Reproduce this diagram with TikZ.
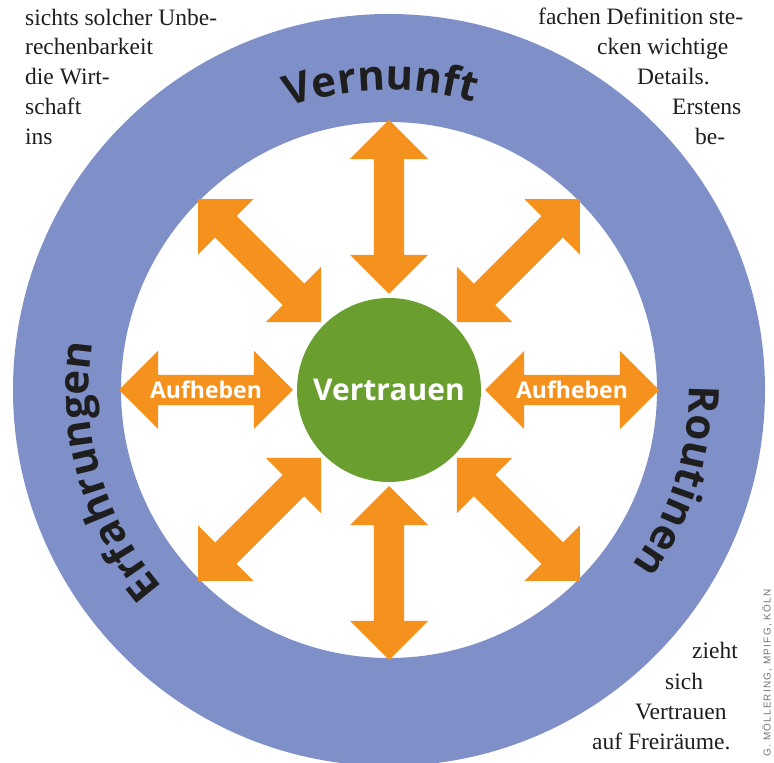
\documentclass[tikz,border=0pt]{standalone}
\usepackage{fontspec}
\setmainfont{Liberation Serif}
\newfontfamily\bandfont{Open Sans}
\newfontfamily\creditfont[LetterSpace=12]{Liberation Sans}
\usetikzlibrary{shapes.arrows, decorations.text}

\definecolor{ringblau}{RGB}{127,143,200}
\definecolor{pfeilorange}{RGB}{245,146,30}
\definecolor{gruen}{RGB}{106,158,47}
\definecolor{schrift}{RGB}{30,30,30}
\newcommand{\ringschrift}{\bandfont\bfseries\fontsize{42}{42}\selectfont}

\tikzset{pfeil/.style={double arrow, fill=pfeilorange, inner sep=0pt, text height=23.2pt, text depth=6.8pt, minimum height=174pt, minimum width=78pt, double arrow head extend=24pt, double arrow tip angle=90, text=white, font=\bandfont\bfseries\fontsize{23}{23}\selectfont}}
\tikzset{spalte/.style={anchor=base west, inner sep=0pt, text=schrift, font=\fontsize{23.5}{28}\selectfont}}
\tikzset{ringtext/.style={decorate, decoration={text along path, text align=center, text color=schrift}}}

\begin{document}
\begin{tikzpicture}[x=1pt, y=1pt]
    \useasboundingbox (0,0) rectangle (774,763);
    \coordinate (c) at (389,373);

    \fill[ringblau, even odd rule] (c) circle (376) circle (268);
    \path[ringtext, decoration={text={|\ringschrift|Vernunft}}] (c) ++(151.5:300) arc[start angle=151.5, end angle=31.5, radius=300];
    \path[ringtext, decoration={text={|\ringschrift|Routinen}}] (c) ++(20:300) arc[start angle=20, end angle=-55, radius=300];
    \path[ringtext, decoration={text={|\ringschrift|Erfahrungen}}] (c) ++(250:300) arc[start angle=250, end angle=142, radius=300];

    \node[circle, fill=gruen, minimum size=184pt, inner sep=0pt, text=white, font=\bandfont\bfseries\fontsize{30}{30}\selectfont] (vertrauen) at (c) {Vertrauen};
    \node[pfeil] (links) at ([shift={(180:183)}]vertrauen.center) {Aufheben};
    \node[pfeil] (rechts) at ([shift={(0:183)}]vertrauen.center) {Aufheben};
    \foreach \w in {45,90,135,225,270,315}
        \node[pfeil, rotate=\w] (p\w) at ([shift={(\w:183)}]vertrauen.center) {};

    \node[spalte] (l1) at (25,737) {sichts solcher Unbe-};
    \node[spalte] (l2) at (25,708) {rechenbarkeit};
    \node[spalte] (l3) at (25,678) {die Wirt-};
    \node[spalte] (l4) at (25,648) {schaft};
    \node[spalte] (l5) at (25,618) {ins};

    \node[spalte] (r1) at (538,738) {fachen Definition ste-};
    \node[spalte] (r2) at (597,708) {cken wichtige};
    \node[spalte] (r3) at (637,678) {Details.};
    \node[spalte] (r4) at (672,648) {Erstens};
    \node[spalte] (r5) at (695,618) {be-};

    \node[spalte] (u1) at (692,104) {zieht};
    \node[spalte] (u2) at (665,73) {sich};
    \node[spalte] (u3) at (635,43) {Vertrauen};
    \node[spalte] (u4) at (592,13) {auf Freiräume.};

    \node[rotate=90, text=black!55, font=\creditfont\fontsize{10}{10}\selectfont] (quelle) at (767,90) {G. MÖLLERING, MPIFG, KÖLN};
\end{tikzpicture}
\end{document}
